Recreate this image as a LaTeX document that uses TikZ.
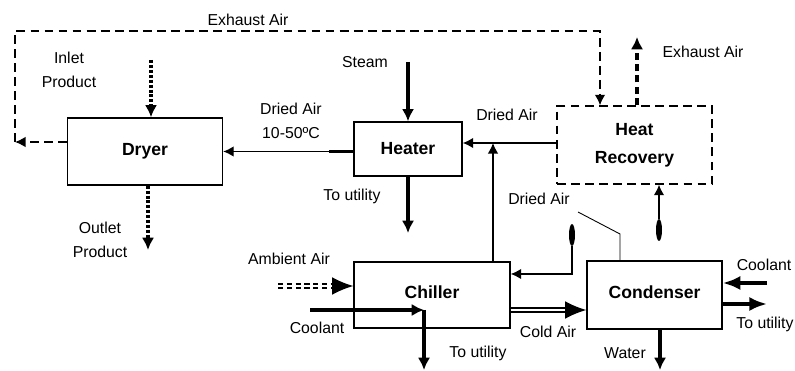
\documentclass[tikz,border=0pt]{standalone}
\usepackage{fontspec}
\setmainfont{Liberation Sans}
\usetikzlibrary{arrows.meta,positioning,calc,shapes.geometric}

\begin{document}
\begin{tikzpicture}[x=0.02cm,y=-0.02cm,
box/.style={draw,line width=0.8pt,inner sep=0pt,align=center,font=\fontsize{10}{16}\selectfont\bfseries},
lbl/.style={font=\fontsize{9}{13.5}\selectfont,align=center,inner sep=1pt},
arr/.style={-{Latex[length=6pt,width=6pt]},line width=0.8pt},
fat/.style={-{Latex[length=7pt,width=7pt]},line width=1.9pt},
big/.style={-{Latex[length=10pt,width=8pt]},line width=2.6pt},
exh/.style={dash pattern=on 5pt off 3pt,line width=0.8pt,-{Latex[length=6pt,width=6pt]}},
exhup/.style={dash pattern=on 4pt off 2.5pt,line width=1.8pt,-{Latex[length=7pt,width=7pt]}},
dotarr/.style={dash pattern=on 1.7pt off 1.1pt,line width=1.8pt,-{Latex[length=7pt,width=7pt]}},
plug/.style={ellipse,fill,inner sep=0pt,minimum width=0.12cm,minimum height=0.44cm},
wide/.style={-{Latex[length=12pt,width=10pt]},line width=0.7pt}]
\useasboundingbox (0,0) rectangle (795,371);

\node[box,minimum width=3.1cm,minimum height=1.34cm] (dryer) at (145,151.5) {Dryer};
\node[box,minimum width=2.16cm,minimum height=1.08cm] (heater) at (408,149) {Heater};
\node[box,dash pattern=on 5pt off 3pt,minimum width=3.1cm,minimum height=1.56cm] (hrec) at (634.5,145) {Heat\\Recovery};
\node[box,minimum width=3.12cm,minimum height=1.32cm] (chiller) at (432,295) {\raisebox{1.2mm}{Chiller}};
\node[box,minimum width=2.7cm,minimum height=1.36cm] (cond) at (654.5,295) {\raisebox{1.2mm}{Condenser}};

\node[lbl] (exhtop) at (248,20) {Exhaust Air};
\node[lbl] (inlet) at (69,70) {Inlet\\Product};
\node[lbl] (outlet) at (100,240) {Outlet\\Product};
\node[lbl] (steam) at (365,62) {Steam};
\node[lbl] (dried1) at (291,121) {Dried Air\\10-50ºC};
\node[lbl] (util1) at (352,196) {To utility};
\node[lbl] (dried2) at (507,115) {Dried Air};
\node[lbl] (exhout) at (703,52) {Exhaust Air};
\node[lbl] (dried3) at (539,199) {Dried Air};
\node[lbl] (ambient) at (289,259) {Ambient Air};
\node[lbl] (cool1) at (317,328) {Coolant};
\node[lbl] (util2) at (478,353) {To utility};
\node[lbl] (coldair) at (548,332) {Cold Air};
\node[lbl] (water) at (625,353) {Water};
\node[lbl] (cool2) at (764,265) {Coolant};
\node[lbl] (util3) at (765,324) {To utility};

\coordinate (exL) at (15,142);
\coordinate (exT) at (600,31);
\coordinate (exU) at (637,37);
\coordinate (inT) at (151,60);
\coordinate (outB) at (148,250);
\coordinate (stT) at (408,62);
\coordinate (htB) at (408,233);
\coordinate (jn) at (493,143);
\coordinate (dj) at (572,274);
\coordinate (ld) at (578,212);
\coordinate (ldk) at (620,234);
\coordinate (ambS) at (278,286);
\coordinate (ambE) at (334,286);
\coordinate (coS) at (310,310);
\coordinate (coE) at (424,310);
\coordinate (coB) at (424,370);
\coordinate (cold) at (566,310);
\coordinate (cnI) at (767,283);
\coordinate (cnO) at (767,304);
\coordinate (wtB) at (660,370);

\node[plug] (plugA) at (572,235) {};
\node[plug] (plugB) at (659,230) {};

\draw[exh] (dryer.west |- exL) -- (exL);
\draw[exh] (exL) |- (exT) -- (exT |- hrec.north);
\draw[exhup] (hrec.north -| exU) -- (exU);
\draw[dotarr] (inT) -- (inT |- dryer.north);
\draw[dotarr] (dryer.south -| outB) -- (outB);
\draw[fat] (stT) -- (heater.north);
\draw[arr] (heater.west |- dryer) -- (dryer.east);
\draw[line width=1.6pt] (heater.west |- dryer) -- ++(-24,0);
\draw[fat] (heater.south) -- (htB);
\draw[arr] (hrec.west |- jn) -- (heater.east |- jn);
\draw[arr] (chiller.north -| jn) -- (jn);
\draw[arr] (plugA.south) |- (chiller.east |- dj);
\draw[arr] (plugB.north) -- (plugB.north |- hrec.south);
\draw[line width=0.5pt] (ld) -- (ldk) -- (ldk |- cond.north);
\draw[dash pattern=on 3pt off 2pt,double,double distance=1.6pt,line width=0.8pt] (ambS) -- (ambE);
\draw[wide] (ambE) -- (chiller.west |- ambE);
\draw[fat] (coS) -- (coE);
\draw[fat] (coE) -- (coB);
\draw[double,double distance=1.6pt,line width=0.7pt] (chiller.east |- cold) -- (cold);
\draw[wide] (cold) -- (cond.west |- cold);
\draw[big] (cnI) -- (cond.east |- cnI);
\draw[big] (cond.east |- cnO) -- (cnO);
\draw[fat] (cond.south -| wtB) -- (wtB);
\end{tikzpicture}
\end{document}
